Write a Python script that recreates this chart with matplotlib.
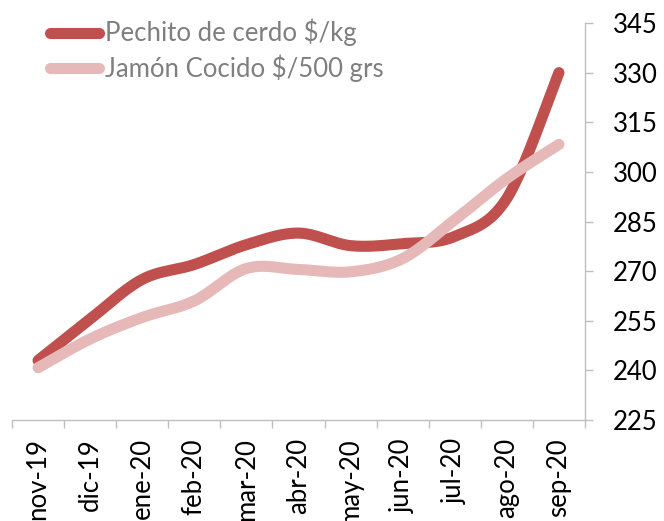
import numpy as np
import matplotlib
matplotlib.use("Agg")
import matplotlib.pyplot as plt
from matplotlib.lines import Line2D

plt.rcParams['font.family'] = ['Lato', 'DejaVu Sans']

categories = ["nov-19", "dic-19", "ene-20", "feb-20", "mar-20", "abr-20",
              "may-20", "jun-20", "jul-20", "ago-20", "sep-20"]
pechito = [243.0, 255.5, 267.5, 272.0, 278.0, 281.5, 277.7, 278.3, 280.5, 292.0, 330.0]
jamon = [240.8, 249.5, 256.0, 261.0, 270.8, 270.5, 269.8, 273.8, 285.5, 298.0, 308.3]
series_names = ["Pechito de cerdo $/kg", "Jamón Cocido $/500 grs"]
yticks = [225, 240, 255, 270, 285, 300, 315, 330, 345]


def smooth(x, y, n=30):
    x = np.asarray(x, float)
    y = np.asarray(y, float)
    P = np.column_stack([x, y])
    m = len(P)
    out = []
    for i in range(m - 1):
        p0 = P[i - 1] if i > 0 else P[i]
        p1 = P[i]
        p2 = P[i + 1]
        p3 = P[i + 2] if i + 2 < m else P[i + 1]
        c1 = p1 + (p2 - p0) / 6.0
        c2 = p2 - (p3 - p1) / 6.0
        t = np.linspace(0, 1, n, endpoint=(i == m - 2))[:, None]
        seg = ((1 - t) ** 3) * p1 + 3 * ((1 - t) ** 2) * t * c1 + 3 * (1 - t) * t ** 2 * c2 + t ** 3 * p2
        out.append(seg)
    out = np.vstack(out)
    return out[:, 0], out[:, 1]


fig = plt.figure(figsize=(6.64, 5.21), dpi=100)
ax = fig.add_axes([12 / 664, 1 - 420 / 521, (585 - 12) / 664, (420 - 23) / 521])

x = np.arange(len(categories))
red = "#C0504D"
pink = "#E6B9B8"
lw = 8.0
xs, ys = smooth(x, pechito)
ax.plot(xs, ys, color=red, lw=lw, solid_capstyle='round', solid_joinstyle='round', zorder=3)
xs, ys = smooth(x, jamon)
ax.plot(xs, ys, color=pink, lw=lw, solid_capstyle='round', solid_joinstyle='round', zorder=4)

ax.set_xlim(-0.5, len(categories) - 0.5)
ax.set_ylim(yticks[0], yticks[-1])

fs = 18
ax.yaxis.tick_right()
ax.set_yticks(yticks)
ax.set_yticklabels([str(v) for v in yticks])
ax.tick_params(axis='y', direction='out', length=6, width=1, color='#BFBFBF',
               labelsize=fs + 0.5, labelcolor='black', pad=14)

ax.set_xticks(np.arange(-0.5, len(categories), 1.0))
ax.set_xticklabels([])
ax.set_xticks(x, minor=True)
ax.set_xticklabels(categories, minor=True, rotation=90, fontsize=fs + 0.5)
ax.tick_params(axis='x', which='major', direction='out', length=6, width=1, color='#BFBFBF')
ax.tick_params(axis='x', which='minor', length=0, pad=13)

for s in ['left', 'top']:
    ax.spines[s].set_visible(False)
for s in ['right', 'bottom']:
    ax.spines[s].set_color('#BFBFBF')
    ax.spines[s].set_linewidth(1)

handles = [Line2D([0], [0], color=red, lw=lw, solid_capstyle='round'),
           Line2D([0], [0], color=pink, lw=lw, solid_capstyle='round')]
leg = ax.legend(handles, series_names, loc='upper left', bbox_to_anchor=(50 / 664, 1 - 19 / 521),
                bbox_transform=fig.transFigure, frameon=False, fontsize=18.5,
                handlelength=1.9, handletextpad=0.25, labelspacing=0.3, borderaxespad=0, borderpad=0)
for t in leg.get_texts():
    t.set_color('#7F7F7F')

fig.savefig("out.png", dpi=100)
